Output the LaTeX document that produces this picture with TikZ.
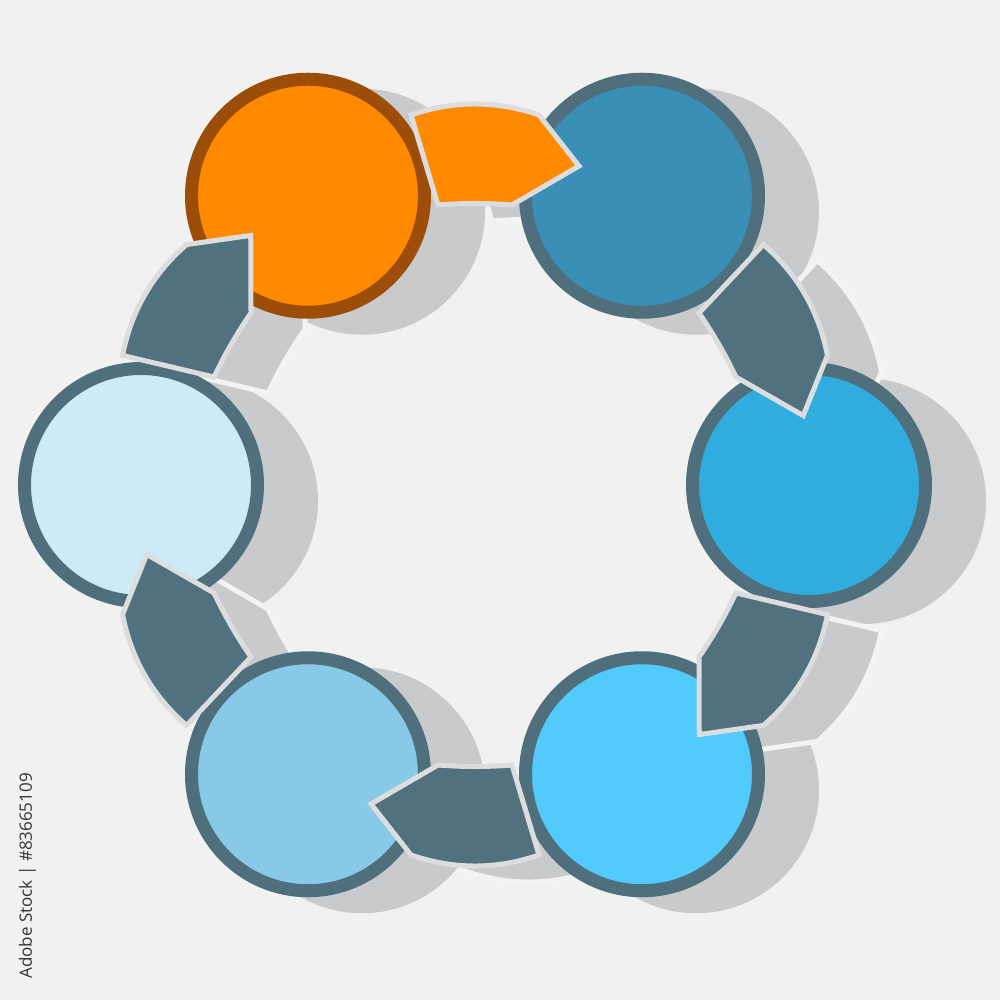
\documentclass[tikz,border=0pt]{standalone}
\usepackage{fontspec}
\newfontfamily\wmfont{Open Sans}
\definecolor{bgc}{HTML}{F1F1F1}
\definecolor{shadowc}{HTML}{C9CACC}
\definecolor{shadowline}{HTML}{F3F3F3}
\definecolor{slatec}{HTML}{52717E}
\definecolor{outlc}{HTML}{DCDDDE}
\definecolor{orangec}{HTML}{FF8A00}
\definecolor{brownc}{HTML}{9C4E08}
\definecolor{ringc}{HTML}{4F6F7D}
\definecolor{cA}{HTML}{3A8FB7}
\definecolor{cB}{HTML}{31ACDE}
\definecolor{cC}{HTML}{52CAFB}
\definecolor{cD}{HTML}{88C9E7}
\definecolor{cE}{HTML}{CDEBF6}
\begin{document}
\begin{tikzpicture}[x=1pt,y=1pt,
  bandshadow/.style={fill=shadowc, draw=shadowline, line width=5, line join=miter},
  band/.style={draw=outlc, line width=5, line join=miter},
  disc/.style={line width=13},
  discshadow/.style={fill=shadowc}]
\fill[bgc] (-475,-515) rectangle (525,485);
\useasboundingbox (-475,-515) rectangle (525,485);
% circle shadows
\foreach \k in {0,...,5}
  \fill[discshadow, shift={(54,-16)}] ({120-60*\k}:334) circle (123);
% band shadows
\foreach \k in {0,...,5}{
  \begin{scope}[shift={(54,-16)}, rotate={-60*\k}]
    \path[bandshadow] (-64,370) -- (-37,280) .. controls (-12,282) and (12,282) .. (37,280) -- (104,319) -- (64,370) .. controls (21.3,384.7) and (-21.3,384.7) .. cycle;
  \end{scope}
}
% circles
\foreach \k in {0,...,5}
  \node[circle, minimum size=0pt, inner sep=0pt] (n\k) at ({120-60*\k}:334) {};
\foreach \k/\fc/\bc in {0/orangec/brownc,1/cA/ringc,2/cB/ringc,3/cC/ringc,4/cD/ringc,5/cE/ringc}
  \filldraw[disc, fill=\fc, draw=\bc] (n\k) circle (116.5);
% arrow bands
\foreach \k/\ac in {0/orangec,1/slatec,2/slatec,3/slatec,4/slatec,5/slatec}{
  \begin{scope}[rotate={-60*\k}]
    \path[band, fill=\ac] (-64,370) -- (-37,280) .. controls (-12,282) and (12,282) .. (37,280) -- (104,319) -- (64,370) .. controls (21.3,384.7) and (-21.3,384.7) .. cycle;
  \end{scope}
}
% stock id
\node[rotate=90, anchor=base east, inner sep=0pt, text=black!80, font=\wmfont\fontsize{17}{17}\selectfont] (sid) at (-443,-288) {Adobe Stock | \#83665109};
\end{tikzpicture}
\end{document}
